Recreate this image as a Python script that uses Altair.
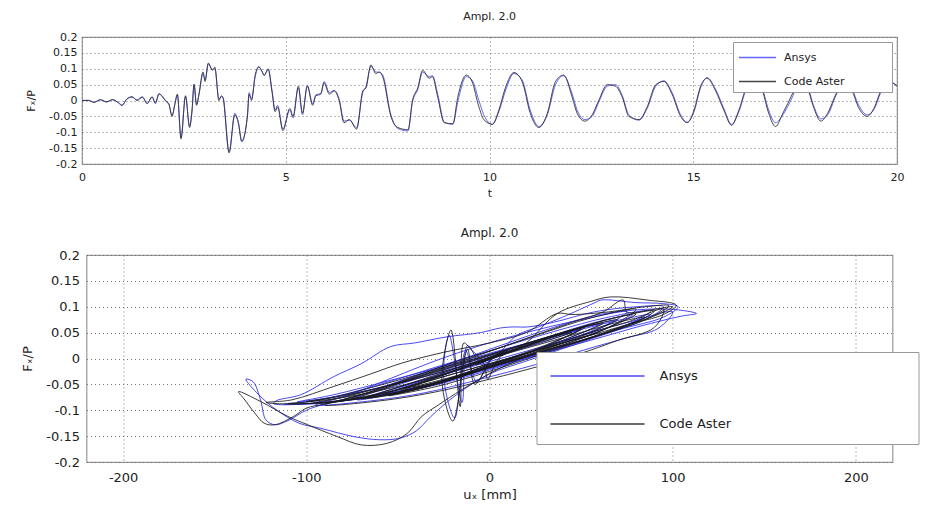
import altair as alt
import pandas as pd

# ---------------- top panel: time history ----------------
t = [0, 0.15, 0.3, 0.45, 0.6, 0.75, 0.9, 0.98, 1.1, 1.23, 1.35, 1.48, 1.6, 1.72, 1.8, 1.89, 1.97, 2.05, 2.13,
     2.21, 2.28, 2.34, 2.43, 2.54, 2.64, 2.7, 2.75, 2.81, 2.87, 2.97, 3.02, 3.1, 3.2, 3.26, 3.36, 3.42, 3.46,
     3.61, 3.75, 3.84, 3.92, 4.06, 4.1, 4.16, 4.25, 4.34, 4.42, 4.47, 4.57, 4.66, 4.74, 4.8, 4.93, 5.1, 5.18,
     5.31, 5.41, 5.53, 5.66, 5.74, 5.86, 5.94, 6.07, 6.19, 6.31, 6.43, 6.56, 6.74, 6.89, 6.97, 7.09, 7.21, 7.3,
     7.38, 7.58, 7.75, 8.0, 8.11, 8.24, 8.36, 8.52, 8.6, 8.73, 8.89, 9.1, 9.22, 9.43, 9.57, 9.74, 9.86, 10.07,
     10.23, 10.39, 10.6, 10.8, 11.0, 11.21, 11.42, 11.62, 11.82, 12.03, 12.15, 12.34, 12.52, 12.68, 12.89,
     13.09, 13.26, 13.42, 13.67, 13.87, 14.08, 14.28, 14.48, 14.69, 14.85, 15.02, 15.18, 15.34, 15.55, 15.75,
     15.94, 16.12, 16.3, 16.5, 16.7, 16.85, 17.02, 17.2, 17.43, 17.6, 17.8, 17.95, 18.13, 18.3, 18.5, 18.7,
     18.9, 19.05, 19.27, 19.45, 19.6, 19.8, 20.0]

aster_top = [0, 0.0, -0.006, 0.002, -0.004, 0.003, -0.008, -0.016, 0.005, 0.012, 0.0, 0.01, -0.01, 0.012, -0.008,
             0.022, 0.012, 0.0, -0.01, -0.05, -0.01, 0.02, -0.121, 0.015, -0.085, -0.03, 0.05, -0.015, 0.02,
             0.09, 0.06, 0.118, 0.095, 0.105, 0.0, 0.015, 0.008, -0.165, -0.045, -0.07, -0.128, -0.05, 0.02,
             0.0, 0.08, 0.107, 0.09, 0.08, 0.098, 0.03, -0.035, -0.02, -0.095, -0.025, -0.05, 0.045, -0.04,
             0.045, -0.015, 0.015, 0.02, 0.055, 0.02, 0.03, 0.0, -0.07, -0.06, -0.09, 0.03, 0.04, 0.112, 0.085,
             0.09, 0.075, -0.05, -0.085, -0.092, 0.0, 0.04, 0.095, 0.07, 0.075, 0.01, -0.07, -0.073, 0.01, 0.08,
             0.06, -0.02, -0.06, -0.075, -0.03, 0.04, 0.088, 0.06, -0.04, -0.085, -0.04, 0.06, 0.08, 0.01,
             -0.04, -0.065, -0.045, 0.0, 0.05, 0.045, 0.01, -0.05, -0.06, -0.02, 0.05, 0.06, 0.02, -0.05, -0.07,
             -0.03, 0.045, 0.07, 0.03, -0.03, -0.078, -0.03, 0.04, 0.065, 0.03, -0.04, -0.082, -0.04, 0.02,
             0.065, 0.04, -0.02, -0.065, -0.04, 0.02, 0.06, 0.03, -0.02, -0.05, -0.02, 0.03, 0.06, 0.045]

ansys_top = [0, 0.001, -0.005, 0.003, -0.005, 0.002, -0.007, -0.014, 0.004, 0.01, 0.002, 0.012, -0.008, 0.01,
             -0.01, 0.02, 0.014, -0.002, -0.012, -0.046, -0.012, 0.018, -0.116, 0.012, -0.08, -0.035, 0.052,
             -0.012, 0.018, 0.085, 0.065, 0.115, 0.098, 0.1, 0.005, 0.012, 0.01, -0.16, -0.04, -0.075, -0.13,
             -0.045, 0.025, 0.005, 0.075, 0.105, 0.092, 0.078, 0.1, 0.035, -0.03, -0.015, -0.09, -0.03, -0.055,
             0.04, -0.045, 0.048, -0.01, 0.018, 0.022, 0.06, 0.025, 0.032, 0.005, -0.065, -0.062, -0.085, 0.025,
             0.045, 0.108, 0.09, 0.088, 0.08, -0.045, -0.088, -0.096, -0.005, 0.035, 0.09, 0.075, 0.078, 0.02,
             -0.068, -0.075, -0.005, 0.075, 0.065, 0.0, -0.045, -0.075, -0.035, 0.03, 0.085, 0.065, -0.03,
             -0.082, -0.045, 0.05, 0.078, 0.02, -0.03, -0.06, -0.05, -0.005, 0.045, 0.05, 0.015, -0.045, -0.062,
             -0.025, 0.045, 0.062, 0.025, -0.045, -0.068, -0.035, 0.04, 0.072, 0.035, -0.025, -0.075, -0.035,
             0.035, 0.065, 0.035, -0.03, -0.07, -0.045, 0.01, 0.06, 0.045, -0.015, -0.058, -0.045, 0.015, 0.058,
             0.035, -0.012, -0.045, -0.025, 0.025, 0.058, 0.048]

# ---------------- bottom panel: force / displacement loops ----------------
aster_u = [0, -4, 3, -7, 6, -9, 8, -4, 10, 2,
           -8, -12, -20, -26, -21, -16, -14, -10, -3, -1,
           5, 20, 37, 55, 66, 86, 102,
           95, 75, 50, 25, 5, -15, -28,
           -37, -45, -56, -70, -83, -100, -110, -125, -137,
           -134, -128, -123, -117, -107, -100, -90, -75, -55, -35, -15, 5, 25, 45, 62, 73, 75, 88, 100,
           92, 70, 40, 10, -20, -50, -80, -105, -122,
           -108, -85, -65, -48, -25, 0, 20, 37, 45, 65, 85, 98,
           88, 65, 35, 5, -25, -55, -85, -110,
           -95, -75, -50, -20, 10, 40, 70, 90,
           80, 55, 25, -5, -35, -65, -95,
           -80, -55, -25, 5, 35, 62, 80,
           60, 30, 0, -30, -60, -80,
           -62, -35, -5, 25, 55, 70,
           48, 20, -10, -40, -65,
           -45, -15, 15, 45, 62,
           40, 10, -20, -50, -58,
           -38, -8, 22, 50,
           28, 0, -30, -48,
           -28, 2, 32, 52,
           30, 0, -28, -42,
           -20, 10, 38, 45,
           25, 0, -30, -60, -85, -100,
           -80, -50, -20, 10, 40, 70, 85,
           60, 30, 0, -30, -55,
           -35, -5, 25, 55, 75,
           95, 90, 70, 55, 30, 0, -30, -60, -90,
           -70, -45, -20, 5, 30, 55, 80,
           65, 40, 10, -20, -50, -70,
           -50, -20, 10, 40, 60]

aster_f = [0, -0.005, 0.004, -0.012, 0.008, -0.01, 0.012, -0.004, 0.016, 0.002,
           -0.05, 0.018, -0.121, -0.042, 0.055, -0.093, 0.03, 0.017, -0.01, -0.04,
           0.0, 0.03, 0.087, 0.11, 0.119, 0.113, 0.103,
           0.085, 0.065, 0.035, 0.01, -0.02, -0.06, -0.09,
           -0.112, -0.145, -0.164, -0.167, -0.151, -0.127, -0.112, -0.083, -0.064,
           -0.078, -0.106, -0.125, -0.128, -0.112, -0.096, -0.088, -0.078, -0.055, -0.03, -0.005, 0.02, 0.045,
           0.07, 0.09, 0.113, 0.09, 0.094, 0.1,
           0.085, 0.06, 0.03, 0.0, -0.03, -0.06, -0.08, -0.088, -0.085,
           -0.08, -0.054, -0.03, -0.009, 0.012, 0.03, 0.05, 0.087, 0.085, 0.09, 0.1, 0.102,
           0.08, 0.05, 0.02, -0.01, -0.04, -0.065, -0.084, -0.087,
           -0.082, -0.066, -0.042, -0.012, 0.018, 0.05, 0.08, 0.092,
           0.07, 0.04, 0.008, -0.022, -0.052, -0.075, -0.086,
           -0.075, -0.052, -0.02, 0.012, 0.045, 0.073, 0.086,
           0.052, 0.015, -0.018, -0.05, -0.072, -0.08,
           -0.062, -0.032, 0.0, 0.034, 0.064, 0.075,
           0.04, 0.005, -0.028, -0.06, -0.074,
           -0.05, -0.015, 0.02, 0.055, 0.068,
           0.035, -0.002, -0.038, -0.065, -0.07,
           -0.046, -0.01, 0.027, 0.058,
           0.02, -0.012, -0.048, -0.062,
           -0.035, 0.0, 0.04, 0.06,
           0.025, -0.012, -0.045, -0.055,
           -0.025, 0.012, 0.045, 0.05,
           0.028, 0.0, -0.035, -0.062, -0.078, -0.083,
           -0.072, -0.048, -0.02, 0.01, 0.04, 0.07, 0.08,
           0.045, 0.01, -0.025, -0.055, -0.072,
           -0.055, -0.022, 0.015, 0.05, 0.07,
           0.095, 0.06, 0.035, 0.016, -0.012, -0.04, -0.065, -0.082, -0.09,
           -0.07, -0.04, -0.008, 0.02, 0.05, 0.078, 0.095,
           0.06, 0.03, -0.005, -0.04, -0.068, -0.078,
           -0.06, -0.03, 0.0, 0.03, 0.05]

ansys_u = [0, -3, 4, -6, 7, -8, 9, -3, 11, 1,
           -7, -13, -19, -25, -22, -15, -12, -4,
           5, 15, 26, 40, 57, 61, 80, 95, 103,
           95, 70, 45, 20, 0, -18, -32,
           -40, -49, -60, -74, -92, -104, -116, -126, -133,
           -129, -125, -122, -117, -110, -100, -90, -70, -50, -30, -10, 10, 35, 60, 85, 100, 113,
           105, 85, 55, 25, -5, -35, -65, -95, -118,
           -116, -103, -85, -70, -54, -41, -23, -5, 6, 13, 21, 35, 57, 80, 95,
           85, 60, 30, 0, -30, -60, -90, -112,
           -100, -80, -55, -25, 5, 35, 65, 88,
           75, 50, 20, -10, -40, -70, -98,
           -85, -60, -30, 0, 30, 58, 78,
           58, 28, -2, -32, -62, -75,
           -58, -30, 0, 30, 58, 68,
           45, 15, -15, -45, -62,
           -42, -12, 18, 48, 60,
           38, 8, -22, -50, -55,
           -35, -5, 25, 50,
           26, -2, -30, -45,
           -25, 5, 35, 48,
           28, 0, -30, -62, -88, -105,
           -85, -55, -25, 5, 38, 68, 88,
           62, 32, 2, -28, -52,
           -32, -2, 28, 58, 78,
           100, 92, 75, 55, 25, -5, -35, -65, -95,
           -78, -55, -30, -5, 20, 50, 75,
           60, 35, 5, -25, -55, -72,
           -52, -22, 8, 38, 58]

ansys_f = [0, -0.004, 0.005, -0.01, 0.009, -0.012, 0.01, -0.002, 0.014, 0.0,
           -0.045, 0.015, -0.115, -0.035, 0.045, -0.085, 0.025, -0.012,
           0.01, 0.045, 0.06, 0.08, 0.107, 0.113, 0.108, 0.106, 0.1,
           0.08, 0.055, 0.025, -0.005, -0.03, -0.07, -0.112,
           -0.14, -0.154, -0.157, -0.151, -0.135, -0.125, -0.1, -0.07, -0.04,
           -0.045, -0.08, -0.119, -0.128, -0.12, -0.1, -0.088, -0.07, -0.045, -0.02, 0.005, 0.03, 0.06, 0.085,
           0.095, 0.095, 0.087,
           0.082, 0.065, 0.035, 0.005, -0.025, -0.055, -0.075, -0.087, -0.087,
           -0.081, -0.07, -0.035, -0.01, 0.023, 0.03, 0.042, 0.05, 0.059, 0.061, 0.061, 0.07, 0.09, 0.1, 0.1,
           0.075, 0.045, 0.012, -0.018, -0.048, -0.07, -0.086, -0.088,
           -0.084, -0.07, -0.045, -0.012, 0.02, 0.052, 0.08, 0.092,
           0.065, 0.035, 0.003, -0.028, -0.056, -0.077, -0.087,
           -0.078, -0.056, -0.024, 0.008, 0.04, 0.07, 0.084,
           0.05, 0.012, -0.02, -0.052, -0.072, -0.077,
           -0.06, -0.028, 0.005, 0.038, 0.066, 0.073,
           0.038, 0.0, -0.033, -0.062, -0.07,
           -0.048, -0.012, 0.023, 0.057, 0.066,
           0.032, -0.004, -0.04, -0.064, -0.066,
           -0.042, -0.006, 0.03, 0.056,
           0.018, -0.014, -0.047, -0.058,
           -0.032, 0.004, 0.042, 0.055,
           0.03, 0.002, -0.03, -0.058, -0.076, -0.084,
           -0.07, -0.043, -0.015, 0.015, 0.045, 0.072, 0.085,
           0.048, 0.014, -0.02, -0.05, -0.068,
           -0.05, -0.018, 0.02, 0.053, 0.072,
           0.09, 0.058, 0.04, 0.02, -0.012, -0.04, -0.066, -0.082, -0.09,
           -0.072, -0.04, -0.005, 0.025, 0.05, 0.075, 0.09,
           0.058, 0.028, -0.008, -0.042, -0.07, -0.08,
           -0.058, -0.028, 0.002, 0.032, 0.052]

SERIES = ["Ansys", "Code Aster"]
y_ticks = [-0.2, -0.15, -0.1, -0.05, 0, 0.05, 0.1, 0.15, 0.2]
t_ticks = [0, 5, 10, 15, 20]
u_ticks = [-200, -100, 0, 100, 200]
TITLE = "Ampl. 2.0"
FONT = "DejaVu Sans"
NB = "\u00a0"
END = "\u200b"

top_df = pd.DataFrame({
    "t": t + t,
    "f": ansys_top + aster_top,
    "series": ["Ansys"] * len(t) + ["Code Aster"] * len(t),
})
bot_df = pd.DataFrame({
    "u": ansys_u + aster_u,
    "f": ansys_f + aster_f,
    "series": ["Ansys"] * len(ansys_u) + ["Code Aster"] * len(aster_u),
    "i": list(range(len(ansys_u))) + list(range(len(aster_u))),
})


def axis(title, values, fs, lpad, tpad):
    return alt.Axis(title=title, values=values, grid=True, gridDash=[1, 3], gridColor="#666",
                    gridOpacity=0.9, ticks=False, domain=False, labelFont=FONT, labelFontSize=fs,
                    labelColor="#222", titleFont=FONT, titleFontSize=fs, titleFontWeight="normal",
                    titleColor="#222", labelPadding=lpad, titlePadding=tpad,
                    labelExpr="'' + datum.value", labelFlush=False, labelOverlap=False)


top = alt.Chart(top_df).mark_line(strokeWidth=1, interpolate="monotone", opacity=0.9).encode(
    x=alt.X("t:Q", scale=alt.Scale(domain=[0, 20], nice=False, zero=False),
            axis=axis("t", t_ticks, 11, 7, 5)),
    y=alt.Y("f:Q", scale=alt.Scale(domain=[-0.2, 0.2], nice=False),
            axis=axis("Fₓ/P", y_ticks, 11, 5, 12)),
    color=alt.Color("series:N", scale=alt.Scale(domain=SERIES, range=["#5555ff", "#333333"]),
                    legend=alt.Legend(title=None, orient="none", legendX=651, legendY=5,
                                      symbolType="M-1,0H2.9", symbolSize=361, symbolStrokeWidth=1.3,
                                      labelOffset=25, rowPadding=8, padding=5, strokeColor="#999",
                                      fillColor="white", labelFont=FONT, labelFontSize=11,
                                      labelColor="#222", labelLimit=400,
                                      labelExpr="datum.label + '" + NB * 12 + END + "'")),
).properties(width=815, height=127,
             title=alt.TitleParams(TITLE, font=FONT, fontSize=11, fontWeight="normal",
                                   color="#222", offset=9))

bottom = alt.Chart(bot_df).mark_line(strokeWidth=1, interpolate="catmull-rom", opacity=0.85).encode(
    x=alt.X("u:Q", scale=alt.Scale(domain=[-220, 220], nice=False),
            axis=axis("uₓ [mm]", u_ticks, 13, 9, 4)),
    y=alt.Y("f:Q", scale=alt.Scale(domain=[-0.2, 0.2], nice=False),
            axis=axis("Fₓ/P", y_ticks, 13, 7, 11)),
    order=alt.Order("i:Q"),
    color=alt.Color("series:N", scale=alt.Scale(domain=SERIES, range=["#2a2aee", "#1a1a1a"]),
                    legend=alt.Legend(title=None, orient="none", legendX=450, legendY=97,
                                      symbolType="M-1,0H8.4", symbolSize=400, symbolStrokeWidth=1.3,
                                      labelOffset=88, rowPadding=30, padding=13, strokeColor="#999",
                                      fillColor="white", labelFont=FONT, labelFontSize=13,
                                      labelColor="#222", labelLimit=600,
                                      labelExpr="datum.label + '" + NB * 42 + END + "'")),
).properties(width=806, height=207,
             title=alt.TitleParams(TITLE, font=FONT, fontSize=12, fontWeight="normal",
                                   color="#222", offset=9))

chart = alt.vconcat(top, bottom, spacing=91, center=True, bounds="flush").resolve_scale(
    color="independent").resolve_legend(color="independent").properties(
    padding={"left": 13, "top": 2, "right": 0, "bottom": 2}
).configure_view(stroke="#999", strokeWidth=1.2).configure_title(anchor="middle")

chart.save("out.html", embed_options={"renderer": "svg", "actions": False})
